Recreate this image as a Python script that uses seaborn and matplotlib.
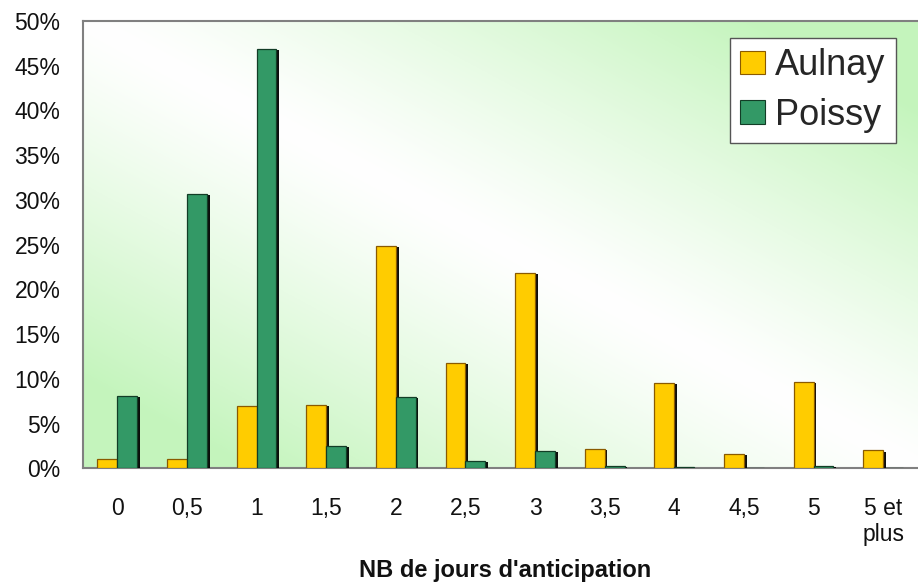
import matplotlib
matplotlib.use("Agg")
import numpy as np
import pandas as pd
import seaborn as sns
import matplotlib.pyplot as plt
import matplotlib.patheffects as pe
from matplotlib.patches import Patch
from matplotlib.ticker import FuncFormatter, MultipleLocator

categories = ['0', '0,5', '1', '1,5', '2', '2,5', '3', '3,5', '4', '4,5', '5', '5 et\nplus']
aulnay = [1.0, 1.0, 7.0, 7.1, 24.9, 11.8, 21.8, 2.2, 9.5, 1.6, 9.7, 2.0]
poissy = [8.1, 30.7, 46.9, 2.5, 8.0, 0.8, 1.9, 0.3, 0.2, 0.0, 0.3, 0.0]
series_names = ['Aulnay', 'Poissy']
x_title = "NB de jours d'anticipation"

colors = {'Aulnay': '#FFCC00', 'Poissy': '#339966'}
edges = {'Aulnay': '#8a5a00', 'Poissy': '#123d26'}

df = pd.DataFrame({
    'cat': categories * 2,
    'val': aulnay + poissy,
    'series': ['Aulnay'] * len(categories) + ['Poissy'] * len(categories),
})

sns.set_style('white')
plt.rcParams['font.family'] = ['Liberation Sans', 'DejaVu Sans']

W, H = 918, 585
fig = plt.figure(figsize=(W / 100, H / 100), dpi=100)
left_px, top_px, bottom_px = 82.5, 21, 468.3
cat_w = 70.5
ax = fig.add_axes([left_px / W, 1 - bottom_px / H, (W - left_px) / W, (bottom_px - top_px) / H])

# gradient background (white along TL-BR diagonal, light green toward the other corners)
n = 300
u, v = np.meshgrid(np.linspace(0, 1, n), np.linspace(1, 0, n))
d = np.clip(np.abs(u + v - 1) / 0.8, 0, 1) ** 1.2
green = np.array([0.77, 0.96, 0.74])
white = np.array([1.0, 1.0, 1.0])
img = white[None, None, :] * (1 - d[..., None]) + green[None, None, :] * d[..., None]
ax.imshow(img, extent=[0, 1, 0, 1], transform=ax.transAxes, aspect='auto', zorder=0)

sns.barplot(data=df, x='cat', y='val', hue='series', palette=colors, width=0.57,
            dodge=True, legend=False, ax=ax, zorder=3, saturation=1)

shadow = [pe.SimplePatchShadow(offset=(2.0, -0.8), shadow_rgbFace='black', alpha=0.95), pe.Normal()]
for container, name in zip(ax.containers, series_names):
    for bar in container:
        bar.set_edgecolor(edges[name])
        bar.set_linewidth(0.9)
        bar.set_path_effects(shadow)

ax.set_xlim(-0.5, -0.5 + (W - left_px) / cat_w)
ax.set_ylim(0, 50)
ax.yaxis.set_major_locator(MultipleLocator(5))
ax.yaxis.set_major_formatter(FuncFormatter(lambda y, p: f"{int(round(y))}%"))
ax.set_xticks(range(len(categories)))
ax.set_xticklabels(categories, fontsize=16.5, linespacing=1.15, va='top')
ax.tick_params(axis='x', length=0, pad=21)
ax.tick_params(axis='y', labelsize=16.5, length=6, width=1.2, color='#808080', direction='out', pad=10)
# boundary ticks on x axis
ax.set_xticks(np.arange(-0.5, len(categories), 1.0), minor=True)
ax.tick_params(axis='x', which='minor', length=6, width=1.2, color='#808080', direction='out')
for lab in ax.get_yticklabels():
    lab.set_color('#111111')
for lab in ax.get_xticklabels():
    lab.set_color('#111111')

ax.set_xlabel('')
ax.set_ylabel('')
for s in ['left', 'bottom', 'top']:
    ax.spines[s].set_visible(True)
    ax.spines[s].set_color('#808080')
    ax.spines[s].set_linewidth(1.5)
ax.spines['right'].set_visible(False)

handles = [Patch(facecolor=colors[nm], edgecolor=edges[nm], linewidth=0.8) for nm in series_names]
leg = fig.legend(handles, series_names, loc='upper right', bbox_to_anchor=(896 / W, 1 - 38 / H),
                 fontsize=26, frameon=True, fancybox=False, handlelength=0.68, handleheight=0.62,
                 handletextpad=0.3, borderpad=0.28, labelspacing=0.4, borderaxespad=0)
leg.get_frame().set_edgecolor('#555555')
leg.get_frame().set_linewidth(1.0)
leg.get_frame().set_facecolor('white')
leg.get_frame().set_alpha(1)

fig.text(505 / W, 1 - 571 / H, x_title, ha='center', va='center', fontsize=17, fontweight='bold',
         color='#111111')

fig.savefig('out.png', dpi=100, facecolor='white')
